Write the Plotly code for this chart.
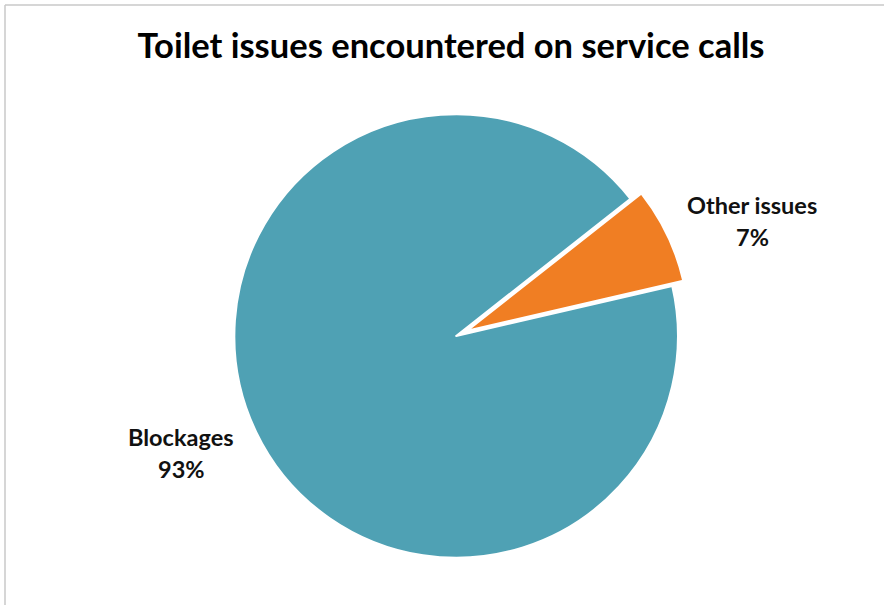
import plotly.graph_objects as go

# Service-call breakdown
categories = ["Blockages", "Other issues"]
shares = [93, 7]
colors = ["#4FA1B4", "#F07E23"]
explode = [0, 0.055]

W, H = 884, 605

fig = go.Figure()
fig.add_trace(go.Pie(
    labels=categories,
    values=shares,
    sort=False,
    direction="clockwise",
    rotation=77,
    pull=explode,
    marker=dict(colors=colors, line=dict(color="white", width=2)),
    textinfo="none",
    hoverinfo="label+percent",
    showlegend=False,
    domain=dict(x=[0.250, 0.782], y=[0.0579, 0.8314]),
))

label_font = dict(family="Lato, 'Open Sans', sans-serif", size=23.5, color="#111111")
label_pos = {"Blockages": (181, 437), "Other issues": (752, 205)}
total = sum(shares)
annotations = []
for cat, val in zip(categories, shares):
    px, py = label_pos[cat]
    pct = f"{round(100 * val / total)}%"
    annotations.append(dict(x=px / W, y=1 - py / H, xref="paper", yref="paper",
                            text=f"<b>{cat}</b>", showarrow=False, font=label_font,
                            xanchor="center", yanchor="middle"))
    annotations.append(dict(x=px / W, y=1 - (py + 32) / H, xref="paper", yref="paper",
                            text=f"<b>{pct}</b>", showarrow=False, font=label_font,
                            xanchor="center", yanchor="middle"))

fig.update_layout(
    width=W, height=H,
    margin=dict(l=0, r=0, t=0, b=0),
    paper_bgcolor="white",
    plot_bgcolor="white",
    title=dict(text="<b>Toilet issues encountered on service calls</b>",
               x=451 / W, xanchor="center", y=1 - 46 / H, yanchor="middle",
               font=dict(family="Lato, 'Open Sans', sans-serif", size=34.5, color="#000000")),
    annotations=annotations,
    shapes=[
        dict(type="line", xref="paper", yref="paper", x0=5 / W, x1=1.01, y0=1 - 5 / H, y1=1 - 5 / H,
             line=dict(color="#C8C8C8", width=1.5)),
        dict(type="line", xref="paper", yref="paper", x0=5 / W, x1=5 / W, y0=1 - 5 / H, y1=-0.01,
             line=dict(color="#C8C8C8", width=1.5)),
    ],
)

fig.write_html("out.html")
